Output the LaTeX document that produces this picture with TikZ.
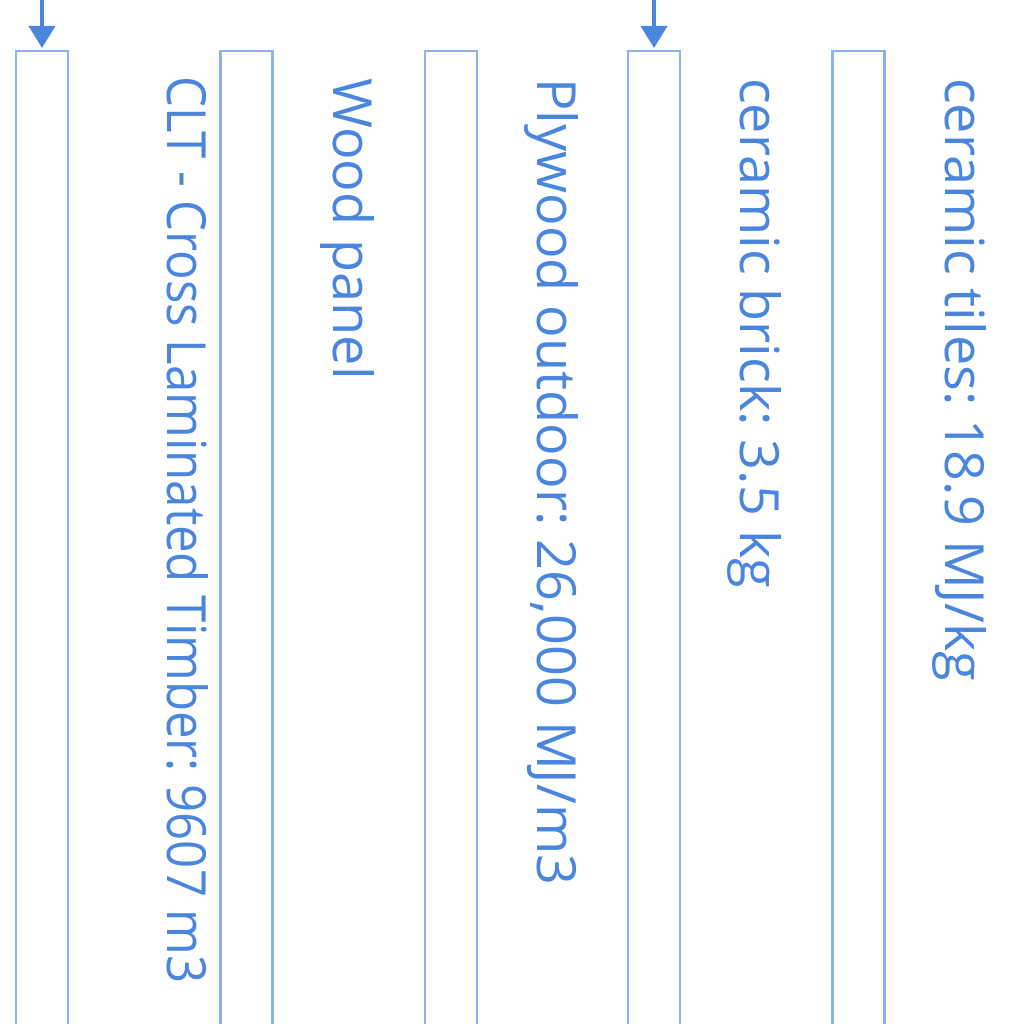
\documentclass[tikz,border=0pt]{standalone}
\usepackage{fontspec}
\setmainfont{Open Sans}
\usetikzlibrary{arrows.meta}
\definecolor{boxc}{HTML}{8AB4EE}
\definecolor{txtc}{HTML}{4A86DE}
\definecolor{arrc}{HTML}{4A86DE}
\frenchspacing
\tikzset{
  colbox/.style={draw=boxc, line width=2.5pt, fill=none, minimum width=52pt, minimum height=1000pt, anchor=north, inner sep=0pt},
  lbl/.style={text=txtc, font=\fontsize{54}{60}\selectfont, rotate=-90, anchor=base west, inner sep=0pt},
  arr/.style={draw=arrc, line width=4pt, -{Triangle[width=26pt,length=22pt]}, shorten >=2pt}
}
\begin{document}
\begin{tikzpicture}[x=1pt,y=1pt]
\useasboundingbox (0,0) rectangle (1024,1024);
\clip (0,0) rectangle (1024,1024);
\node[colbox] (r1) at (42,974) {};
\node[colbox] (r2) at (246.5,974) {};
\node[colbox] (r3) at (451,974) {};
\node[colbox] (r4) at (654,974) {};
\node[colbox] (r5) at (858.5,974) {};
\coordinate (a1) at (42,1030);
\coordinate (a4) at (654,1030);
\draw[arr] (a1) -- (r1.north);
\draw[arr] (a4) -- (r4.north);
\node[lbl] (t1) at (167,948) {\scalebox{0.91}[1]{CLT - Cross Laminated Timber: 9607 m3}};
\node[lbl] (t2) at (333,946) {Wood panel};
\node[lbl] (t3) at (537,946) {Plywood outdoor: 26,000 MJ/m3};
\node[lbl] (t4) at (740,946) {ceramic brick: 3.5 kg};
\node[lbl] (t5) at (945,946) {ceramic tiles: 18.9 MJ/kg};
\end{tikzpicture}
\end{document}
